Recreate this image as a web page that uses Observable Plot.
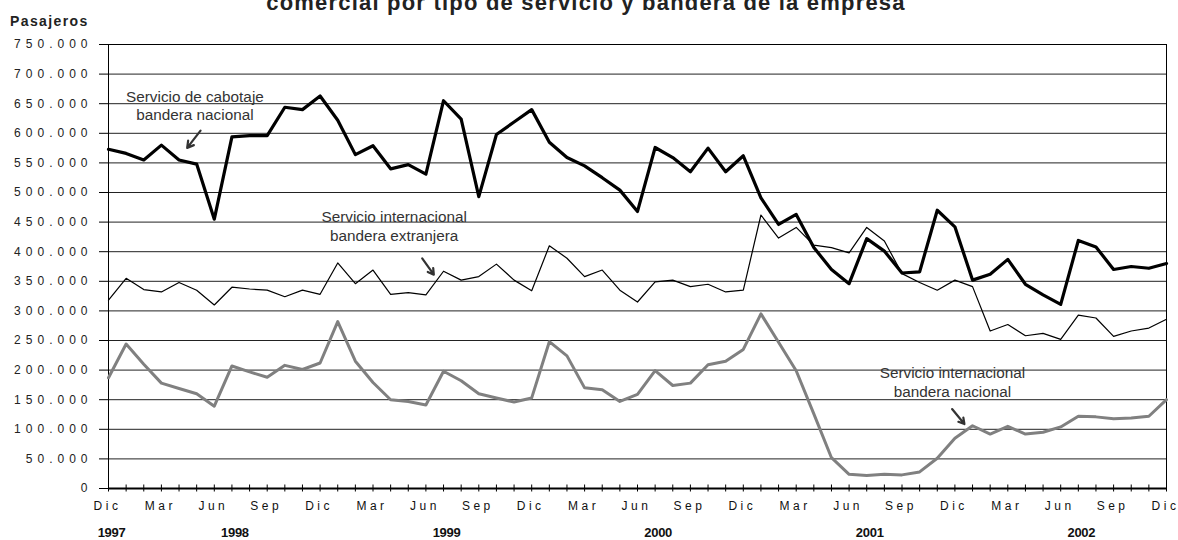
<!DOCTYPE html>
<html>
<head>
<meta charset="utf-8">
<script src="https://cdn.jsdelivr.net/npm/d3@7"></script>
<script src="https://cdn.jsdelivr.net/npm/@observablehq/plot@0.6"></script>
<style>
  html, body { margin: 0; padding: 0; background: #fff; }
  #wrap { position: relative; width: 1178px; height: 540px; overflow: hidden; font-family: "Liberation Sans", Arial, sans-serif; }
  #title { position: absolute; top: -7.6px; left: 586px; transform: translateX(-50%); white-space: nowrap; font-size: 22px; line-height: 22px; font-weight: bold; color: #222; letter-spacing: 1.2px; }
  #ylab { position: absolute; top: 14px; left: 10px; font-size: 14px; line-height: 14px; font-weight: bold; color: #222; letter-spacing: 1.4px; }
  #chart { position: absolute; top: 0; left: 0; }
</style>
</head>
<body>
<div id="wrap">
  <div id="chart"></div>
  <div id="title">comercial por tipo de servicio y bandera de la empresa</div>
  <div id="ylab">Pasajeros</div>
</div>
<script>
// Months: index 0 = Dic 1997 ... index 60 = Dic 2002
const monthNames = ["Dic","Ene","Feb","Mar","Abr","May","Jun","Jul","Ago","Sep","Oct","Nov"];
const monthIndex = [0,1,2,3,4,5,6,7,8,9,10,11,12,13,14,15,16,17,18,19,20,21,22,23,24,25,26,27,28,29,30,31,32,33,34,35,36,37,38,39,40,41,42,43,44,45,46,47,48,49,50,51,52,53,54,55,56,57,58,59,60];
const labelIndex = [0,3,6,9,12,15,18,21,24,27,30,33,36,39,42,45,48,51,54,57,60];
const yearIndex = [0,7,19,31,43,55];
const yearLabels = ["1997","1998","1999","2000","2001","2002"];
const yTicks = [0,50000,100000,150000,200000,250000,300000,350000,400000,450000,500000,550000,600000,650000,700000,750000];

// Servicio de cabotaje, bandera nacional
const cabotaje = [573000,566000,555000,580000,555000,548000,455000,594000,596000,596000,
  644000,640000,663000,622000,564000,579000,540000,547000,531000,655000,
  624000,493000,598000,619000,640000,585000,559000,545000,525000,504000,
  468000,576000,559000,535000,575000,535000,562000,491000,446000,463000,
  407000,370000,346000,422000,401000,364000,366000,470000,442000,352000,
  362000,387000,345000,327000,311000,419000,408000,370000,375000,372000,
  380000];
// Servicio internacional, bandera extranjera
const intExtranjera = [318000,355000,336000,332000,348000,335000,310000,340000,337000,335000,
  324000,335000,328000,381000,346000,369000,328000,331000,327000,367000,
  352000,358000,379000,352000,334000,410000,389000,358000,369000,335000,
  315000,349000,352000,341000,345000,332000,335000,462000,423000,441000,
  411000,407000,398000,441000,418000,363000,348000,335000,352000,341000,
  266000,277000,258000,262000,252000,293000,288000,257000,266000,271000,
  286000];
// Servicio internacional, bandera nacional
const intNacional = [187000,244000,210000,178000,169000,160000,139000,207000,197000,188000,
  208000,201000,212000,282000,215000,179000,150000,147000,141000,198000,
  182000,160000,153000,146000,153000,248000,224000,170000,167000,147000,
  159000,199000,174000,178000,209000,215000,235000,295000,247000,199000,
  126000,52000,24000,22000,24000,23000,28000,51000,85000,106000,
  92000,105000,92000,95000,104000,122000,121000,118000,119000,122000,
  150000];

// Annotations (data coordinates: month index, passengers)
const noteText = ["Servicio de cabotaje\nbandera nacional","Servicio internacional\nbandera extranjera","Servicio internacional\nbandera nacional"];
const noteX = [4.9, 16.2, 47.86];
const noteY = [648000, 444000, 180500];
const arrowX1 = [5.22, 17.79, 47.84];
const arrowY1 = [604500, 388800, 134200];
const arrowX2 = [4.46, 18.45, 48.54];
const arrowY2 = [575400, 361200, 108900];

const locale = d3.formatLocale({decimal: ",", thousands: ".", grouping: [3], currency: ["$", ""]});
const fmt = locale.format(",d");

const notes = noteText.map((t, i) => ({t, x: noteX[i], y: noteY[i]}));
const arrows = arrowX1.map((x1, i) => ({x1, y1: arrowY1[i], x2: arrowX2[i], y2: arrowY2[i]}));

const chart = Plot.plot({
  width: 1178,
  height: 540,
  marginLeft: 108,
  marginRight: 12,
  marginTop: 44,
  marginBottom: 52,
  style: {fontFamily: "'Liberation Sans', Arial, sans-serif", background: "#fff", color: "#222"},
  x: {domain: [0, 60], axis: null},
  y: {domain: [0, 750000], axis: null},
  marks: [
    Plot.gridY(yTicks, {stroke: "#222", strokeOpacity: 1, strokeWidth: 1}),
    Plot.frame({stroke: "#000", strokeWidth: 1}),
    Plot.axisY(yTicks, {anchor: "left", tickSize: 9, tickPadding: 7, tickFormat: fmt, label: null, fontSize: 12, stroke: "#000"}),
    Plot.ruleY([0], {stroke: "#000", strokeWidth: 2}),
    Plot.axisX(monthIndex, {anchor: "bottom", tickSize: 7, dy: -3.5, tickFormat: () => "", label: null, stroke: "#000"}),
    Plot.text(labelIndex, {x: d => d, text: d => monthNames[d % 12], frameAnchor: "bottom", dy: 21, dx: -1, fontSize: 12, fill: "#111"}),
    Plot.text(yearIndex, {x: d => d, text: (d, i) => yearLabels[i], frameAnchor: "bottom", dy: 48, dx: 3, fontSize: 13, fontWeight: "bold", fill: "#111"}),
    Plot.lineY(intNacional, {x: (d, i) => i, y: d => d, stroke: "#808080", strokeWidth: 3}),
    Plot.lineY(intExtranjera, {x: (d, i) => i, y: d => d, stroke: "#000", strokeWidth: 1.2}),
    Plot.lineY(cabotaje, {x: (d, i) => i, y: d => d, stroke: "#000", strokeWidth: 3.2}),
    Plot.text(notes, {x: "x", y: "y", text: "t", fontSize: 15.3, lineHeight: 1.2, fill: "#333"}),
    Plot.arrow(arrows, {x1: "x1", y1: "y1", x2: "x2", y2: "y2", stroke: "#333", strokeWidth: 2.2, headLength: 10})
  ]
});

chart.querySelectorAll("text").forEach(t => {
  const s = t.textContent;
  if (/^(19|20)\d\d$/.test(s)) t.style.letterSpacing = "-0.3px";
  else if (/^\d{1,3}(\.\d{3})*$/.test(s)) t.style.letterSpacing = "5px";
  else if (/^(Dic|Mar|Jun|Sep)$/.test(s)) t.style.letterSpacing = "3.5px";
});
document.getElementById("chart").appendChild(chart);
</script>
</body>
</html>
